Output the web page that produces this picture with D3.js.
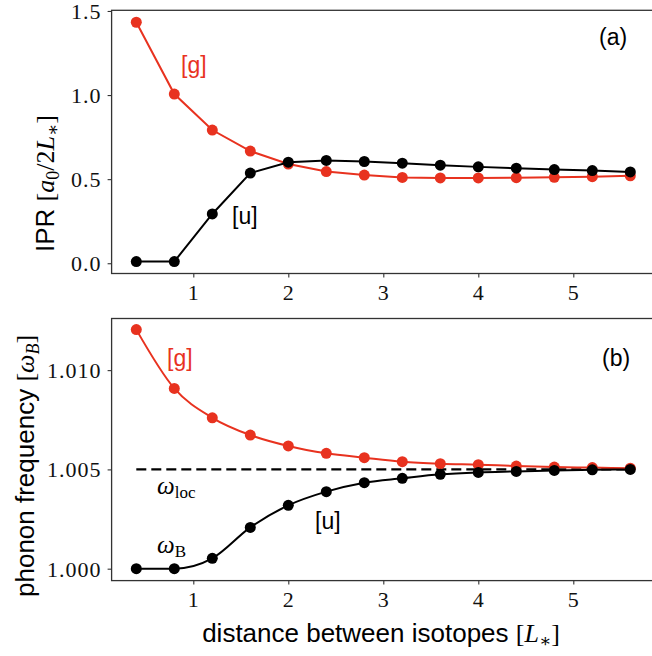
<!DOCTYPE html>
<html>
<head>
<meta charset="utf-8">
<script src="https://cdn.jsdelivr.net/npm/d3@7"></script>
<style>
  body { margin: 0; background: #fff; }
  svg { display: block; }
  .tick text { font-family: "Liberation Serif", "DejaVu Serif", serif; font-size: 22px; letter-spacing: 1px; fill: #111; }
  .sans { font-family: "Liberation Sans", Arial, sans-serif; }
  .serif { font-family: "Liberation Serif", "DejaVu Serif", serif; }
</style>
</head>
<body>
<div id="wrapper"></div>
<script>
// distance between isotopes [L*]
const distances = [0.4, 0.8, 1.2, 1.6, 2.0, 2.4, 2.8, 3.2, 3.6, 4.0, 4.4, 4.8, 5.2, 5.6];

// (a) IPR
const iprG = [1.433, 1.006, 0.792, 0.667, 0.590, 0.545, 0.524, 0.510, 0.507, 0.507, 0.509, 0.511, 0.515, 0.520];
const iprU = [0.010, 0.010, 0.293, 0.536, 0.601, 0.611, 0.605, 0.595, 0.583, 0.573, 0.565, 0.557, 0.551, 0.543];

// (b) phonon frequency
const freqG = [1.01204, 1.00908, 1.00760, 1.00673, 1.00618, 1.00581, 1.00559, 1.00539, 1.00529, 1.00524, 1.00517, 1.00512, 1.00509, 1.00506];
const freqU = [1.00000, 1.00000, 1.00052, 1.00208, 1.00319, 1.00388, 1.00433, 1.00455, 1.00475, 1.00485, 1.00490, 1.00495, 1.00498, 1.00500];
const omegaLoc = 1.005;

const xTicks = [1, 2, 3, 4, 5];
const iprTicks = [0.0, 0.5, 1.0, 1.5];
const freqTicks = [1.000, 1.005, 1.010];

const red = '#e8321f';
const black = '#000';

const width = 652, height = 656;

const svg = d3.select('#wrapper').append('svg')
    .attr('width', width)
    .attr('height', height);

const xScale = d3.scaleLinear()
    .domain([0.14, 5.86])
    .range([111.6, 655]);

const yTop = d3.scaleLinear()
    .domain([-0.061, 1.504])
    .range([273.5, 10.3]);

const yBot = d3.scaleLinear()
    .domain([0.9994, 1.0126])
    .range([580.6, 318.5]);

function frame(yScale, ticks, fmt) {
    const [y0, y1] = yScale.range();
    const [x0, x1] = xScale.range();

    const xAxis = svg.append('g')
        .attr('transform', `translate(0,${y0})`)
        .call(d3.axisBottom(xScale).tickValues(xTicks).tickFormat(d3.format('d')).tickSize(4).tickPadding(5));
    const yAxis = svg.append('g')
        .attr('transform', `translate(${x0},0)`)
        .call(d3.axisLeft(yScale).tickValues(ticks).tickFormat(fmt).tickSize(4).tickPadding(6));

    [xAxis, yAxis].forEach(a => {
        a.select('.domain').remove();
        a.selectAll('.tick line').attr('stroke', '#333').attr('stroke-width', 1.1);
    });
    yAxis.selectAll('.tick text').attr('dy', '0.34em');
    xAxis.selectAll('.tick text').attr('dy', '0.8em');

    svg.append('rect')
        .attr('x', x0).attr('y', y1)
        .attr('width', x1 - x0).attr('height', y0 - y1)
        .attr('fill', 'none')
        .attr('stroke', '#333')
        .attr('stroke-width', 1.3);
}

function series(yScale, values, color, curve) {
    const pts = distances.map((d, i) => [d, values[i]]);
    const line = d3.line()
        .x(d => xScale(d[0]))
        .y(d => yScale(d[1]))
        .curve(curve);
    svg.append('path')
        .attr('d', line(pts))
        .attr('fill', 'none')
        .attr('stroke', color)
        .attr('stroke-width', 2);
    svg.append('g').selectAll('circle')
        .data(pts)
        .join('circle')
        .attr('cx', d => xScale(d[0]))
        .attr('cy', d => yScale(d[1]))
        .attr('r', 5.5)
        .attr('fill', color);
}

// panel (a)
frame(yTop, iprTicks, d3.format('.1f'));
series(yTop, iprG, red, d3.curveLinear);
series(yTop, iprU, black, d3.curveLinear);

// panel (b)
frame(yBot, freqTicks, d3.format('.3f'));
svg.append('line')
    .attr('x1', xScale(distances[0]))
    .attr('x2', xScale(distances[distances.length - 1]))
    .attr('y1', yBot(omegaLoc))
    .attr('y2', yBot(omegaLoc))
    .attr('stroke', '#000')
    .attr('stroke-width', 2.2)
    .attr('stroke-dasharray', '10,5');
series(yBot, freqG, red, d3.curveMonotoneX);
series(yBot, freqU, black, d3.curveMonotoneX);

// annotations
function label(x, y, txt, color, size = 23) {
    svg.append('text')
        .attr('class', 'sans')
        .attr('x', x).attr('y', y)
        .attr('fill', color)
        .attr('font-size', size)
        .text(txt);
}
label(181, 73, '[g]', red);
label(232, 224, '[u]', black);
label(599, 45, '(a)', black);
label(167, 366, '[g]', red);
label(315, 529, '[u]', black);
label(602, 366, '(b)', black);

// omega labels
function omega(x, y, sub) {
    const t = svg.append('text').attr('class', 'serif').attr('x', x).attr('y', y).attr('font-size', 25);
    t.append('tspan').attr('font-style', 'italic').text('ω');
    t.append('tspan').attr('font-size', 17).attr('dy', 4).text(sub);
}
omega(157, 494, 'loc');
omega(157, 553, 'B');

// x label
const xl = svg.append('text')
    .attr('x', 381).attr('y', 642)
    .attr('text-anchor', 'middle')
    .attr('font-size', 26);
xl.append('tspan').attr('class', 'sans').text('distance between isotopes ');
xl.append('tspan').attr('class', 'serif').text('[');
xl.append('tspan').attr('class', 'serif').attr('font-style', 'italic').text('L');
xl.append('tspan').attr('class', 'serif').attr('font-size', 18).attr('dy', 5).text('∗');
xl.append('tspan').attr('class', 'serif').attr('dy', -5).text(']');

// y label (a)
const yl1 = svg.append('text')
    .attr('transform', 'translate(54,252) rotate(-90)')
    .attr('font-size', 26);
yl1.append('tspan').attr('class', 'sans').text('IPR ');
yl1.append('tspan').attr('class', 'serif').text('[');
yl1.append('tspan').attr('class', 'serif').attr('font-style', 'italic').text('a');
yl1.append('tspan').attr('class', 'serif').attr('font-size', 18).attr('dy', 5).text('0');
yl1.append('tspan').attr('class', 'serif').attr('dy', -5).text('/2');
yl1.append('tspan').attr('class', 'serif').attr('font-style', 'italic').text('L');
yl1.append('tspan').attr('class', 'serif').attr('font-size', 18).attr('dy', 5).text('∗');
yl1.append('tspan').attr('class', 'serif').attr('dy', -5).text(']');

// y label (b)
const yl2 = svg.append('text')
    .attr('transform', 'translate(34,597) rotate(-90)')
    .attr('font-size', 26);
yl2.append('tspan').attr('class', 'sans').text('phonon frequency ');
yl2.append('tspan').attr('class', 'serif').text('[');
yl2.append('tspan').attr('class', 'serif').attr('font-style', 'italic').text('ω');
yl2.append('tspan').attr('class', 'serif').attr('font-style', 'italic').attr('font-size', 18).attr('dy', 5).text('B');
yl2.append('tspan').attr('class', 'serif').attr('dy', -5).text(']');
</script>
</body>
</html>
